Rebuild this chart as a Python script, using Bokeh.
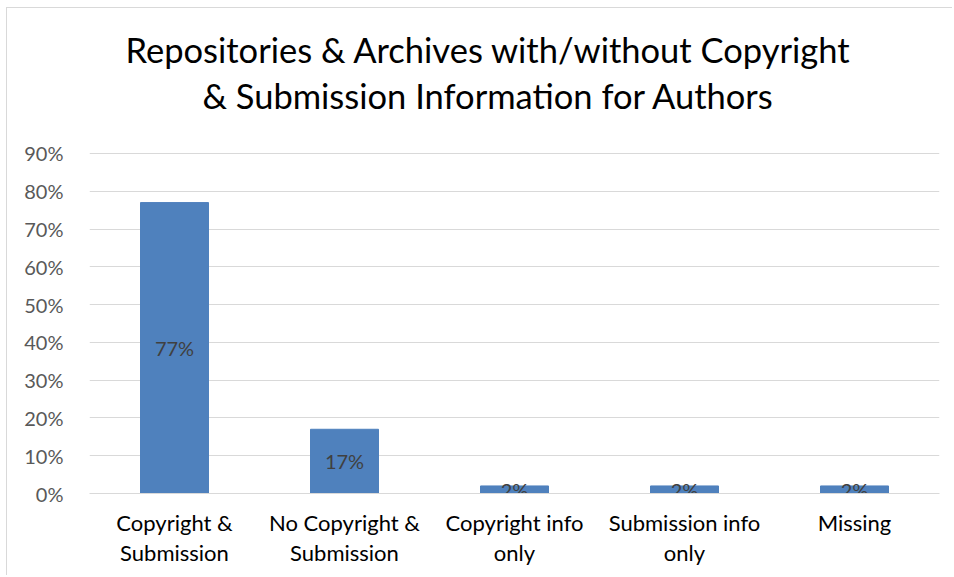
from bokeh.plotting import figure
from bokeh.models import (FixedTicker, NumeralTickFormatter, ColumnDataSource, Range1d,
                          LinearAxis)
from bokeh.core.properties import value
from bokeh.embed import file_html
from bokeh.resources import INLINE

categories = ["Copyright & Submission", "No Copyright & Submission", "Copyright info only",
              "Submission info only", "Missing"]
tick_line1 = ["Copyright &", "No Copyright &", "Copyright info", "Submission info", "Missing"]
tick_line2 = ["Submission", "Submission", "only", "only", ""]
values = [0.77, 0.17, 0.02, 0.02, 0.02]
bar_labels = ["77%", "17%", "2%", "2%", "2%"]
y_ticks = [0.0, 0.1, 0.2, 0.3, 0.4, 0.5, 0.6, 0.7, 0.8, 0.9]
title_line1 = "Repositories & Archives with/without Copyright"
title_line2 = "& Submission Information for Authors"

FONT = "Lato"

xs = list(range(len(categories)))
src = ColumnDataSource(dict(x=xs, cat=categories, val=values,
                            mid=[v / 2 for v in values], lab=bar_labels))

W, H = 946, 568
LEFT, RIGHT, TOP, BOTTOM = 82, 14, 144, 83
Y_END = 0.9025
p = figure(x_range=Range1d(-0.5, len(categories) - 0.5), y_range=Range1d(0, Y_END),
           width=W, height=H, output_backend="svg", toolbar_location=None,
           min_border_left=LEFT, min_border_right=RIGHT, min_border_top=TOP,
           min_border_bottom=BOTTOM, title=None, x_axis_type=None)
p.styles = {"border-left": "1px solid #d9d9d9", "border-top": "1px solid #d9d9d9",
            "transform": "translate(6px, 7px)"}

# Title: two centred lines drawn as labels of axes placed above the frame.
frame_w = W - LEFT - RIGHT
title_center_x = -0.5 + len(categories) * (481 - LEFT) / frame_w

def title_axis(txt, standoff):
    return LinearAxis(ticker=FixedTicker(ticks=[title_center_x]), axis_line_color=None,
                      major_tick_line_color=None, minor_tick_line_color=None,
                      major_tick_out=0, major_tick_in=0,
                      major_label_overrides={title_center_x: txt},
                      major_label_text_font=FONT, major_label_text_font_size="34.5px",
                      major_label_text_color="#000000", major_label_standoff=standoff)

p.add_layout(title_axis(title_line2, 37), "above")
p.add_layout(title_axis(title_line1, 2), "above")

p.vbar(x="x", top="val", width=0.4, source=src, color="#4F81BD", line_color="#4F81BD")
p.text(x="x", y="mid", text="lab", source=src, text_align="center",
       text_baseline="middle", text_font=value(FONT), text_font_size="20px",
       text_color="#404040")

p.outline_line_color = None
p.ygrid.grid_line_color = "#D9D9D9"
p.ygrid.grid_line_width = 1
p.yaxis.ticker = FixedTicker(ticks=y_ticks)
p.yaxis.formatter = NumeralTickFormatter(format="0%")
p.yaxis.axis_line_color = None
p.yaxis.major_tick_line_color = None
p.yaxis.minor_tick_line_color = None
p.yaxis.major_label_text_font = FONT
p.yaxis.major_label_text_font_size = "20px"
p.yaxis.major_label_text_color = "#595959"
p.yaxis.major_label_standoff = 20

ax1 = LinearAxis(ticker=FixedTicker(ticks=xs), axis_line_color="#D9D9D9",
                 major_tick_line_color=None, minor_tick_line_color=None,
                 major_tick_out=0, major_tick_in=0,
                 major_label_overrides={i: t for i, t in zip(xs, tick_line1)},
                 major_label_text_font=FONT, major_label_text_font_size="22px",
                 major_label_text_color="#000000", major_label_standoff=15)
ax2 = LinearAxis(ticker=FixedTicker(ticks=xs), axis_line_color=None,
                 major_tick_line_color=None, minor_tick_line_color=None,
                 major_tick_out=0, major_tick_in=0,
                 major_label_overrides={i: t for i, t in zip(xs, tick_line2)},
                 major_label_text_font=FONT, major_label_text_font_size="22px",
                 major_label_text_color="#000000", major_label_standoff=0)
p.add_layout(ax1, "below")
p.add_layout(ax2, "below")

p.background_fill_color = "white"
p.border_fill_color = "white"

open("out.html", "w").write(file_html(p, INLINE))
